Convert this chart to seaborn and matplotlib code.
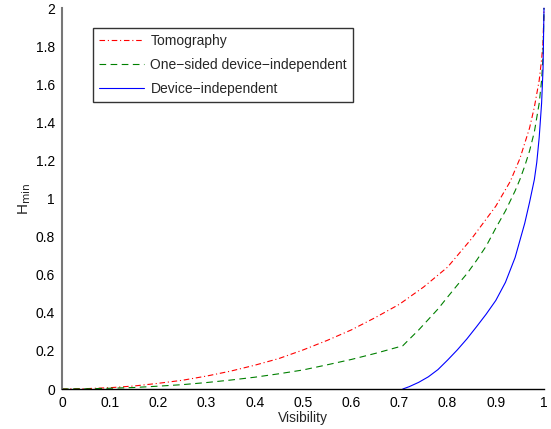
"""
Min-entropy H_min against visibility for three scenarios
(tomography, one-sided device-independent, device-independent).
"""
import numpy as np
import pandas as pd
import matplotlib
matplotlib.use('Agg')
import matplotlib.pyplot as plt
from matplotlib.ticker import FormatStrFormatter, MultipleLocator
import seaborn as sns

# 1) Values
vis_tomo = [0, 0.05, 0.1, 0.15, 0.2, 0.25, 0.3, 0.35, 0.4, 0.45, 0.5, 0.55,
            0.6, 0.65, 0.7, 0.75, 0.8, 0.85, 0.9, 0.93, 0.95, 0.96, 0.97,
            0.98, 0.99, 0.995, 0.998, 1.0]
h_tomo = [0, 0.002, 0.007, 0.016, 0.03, 0.046, 0.068, 0.094, 0.125, 0.16,
          0.205, 0.255, 0.31, 0.375, 0.445, 0.535, 0.64, 0.79, 0.96, 1.09,
          1.21, 1.29, 1.37, 1.48, 1.62, 1.73, 1.82, 2.0]

vis_1sdi = [0, 0.05, 0.1, 0.15, 0.2, 0.25, 0.3, 0.35, 0.4, 0.45, 0.5, 0.55,
            0.6, 0.65, 0.7, 0.707, 0.72, 0.74, 0.76, 0.78, 0.8, 0.82, 0.84,
            0.86, 0.88, 0.9, 0.92, 0.94, 0.95, 0.96, 0.97, 0.98, 0.99,
            0.995, 0.998, 1.0]
h_1sdi = [0, 0.001, 0.004, 0.008, 0.015, 0.023, 0.034, 0.047, 0.062, 0.08,
          0.10, 0.127, 0.155, 0.187, 0.222, 0.227, 0.26, 0.31, 0.365, 0.42,
          0.483, 0.545, 0.605, 0.675, 0.75, 0.845, 0.935, 1.04, 1.1, 1.17,
          1.25, 1.35, 1.5, 1.62, 1.75, 2.0]

vis_di = [0.707, 0.72, 0.74, 0.76, 0.78, 0.8, 0.82, 0.84, 0.86, 0.88, 0.9,
          0.92, 0.94, 0.95, 0.96, 0.97, 0.98, 0.985, 0.99, 0.995, 0.998, 1.0]
h_di = [0, 0.012, 0.035, 0.064, 0.102, 0.152, 0.205, 0.263, 0.327, 0.393,
        0.465, 0.56, 0.69, 0.78, 0.87, 0.98, 1.1, 1.19, 1.32, 1.5, 1.68, 2.0]

labels = ['Tomography', 'One\u2212sided device\u2212independent',
          'Device\u2212independent']

# 2) Plot
sns.set_style('white')
plt.rcParams['font.family'] = ['Liberation Sans', 'DejaVu Sans']

fig = plt.figure(figsize=(5.51, 4.29), dpi=100)
ax = fig.add_axes([0.1125, 0.0932, 0.8748, 0.888])

sns.lineplot(x=vis_tomo, y=h_tomo, ax=ax, color=(1, 0, 0), lw=0.8,
             linestyle=(0, (5, 2.5, 1, 2.5)), label=labels[0], clip_on=False)
sns.lineplot(x=vis_1sdi, y=h_1sdi, ax=ax, color=(0, 0.5, 0), lw=0.8,
             linestyle=(0, (6, 4)), label=labels[1], clip_on=False)
sns.lineplot(x=vis_di, y=h_di, ax=ax, color=(0, 0, 1), lw=0.8,
             linestyle='-', label=labels[2], clip_on=False)

ax.set_xlim(0, 1)
ax.set_ylim(0, 2)
ax.xaxis.set_major_locator(MultipleLocator(0.1))
ax.yaxis.set_major_locator(MultipleLocator(0.2))
ax.xaxis.set_major_formatter(FormatStrFormatter('%g'))
ax.yaxis.set_major_formatter(FormatStrFormatter('%g'))
ax.tick_params(direction='in', length=4, width=0.8, labelsize=10,
               colors='black', pad=5)
for s in ['top', 'right']:
    ax.spines[s].set_visible(False)
ax.spines['left'].set_color('#777777')
ax.spines['left'].set_linewidth(1.5)
ax.spines['bottom'].set_color('black')
ax.spines['bottom'].set_linewidth(1.0)

ax.set_xlabel('Visibility', fontsize=10, labelpad=1)
ax.set_ylabel(r'H$_{\mathrm{min}}$', fontsize=11, labelpad=2)

leg = ax.legend(loc='upper left', bbox_to_anchor=(0.064, 0.948), fontsize=10,
                frameon=True, fancybox=False, handlelength=3.2,
                borderpad=0.45, labelspacing=0.7, handletextpad=0.5,
                borderaxespad=0)
leg.get_frame().set_edgecolor('black')
leg.get_frame().set_linewidth(1.0)

plt.savefig('out.png', dpi=100)
